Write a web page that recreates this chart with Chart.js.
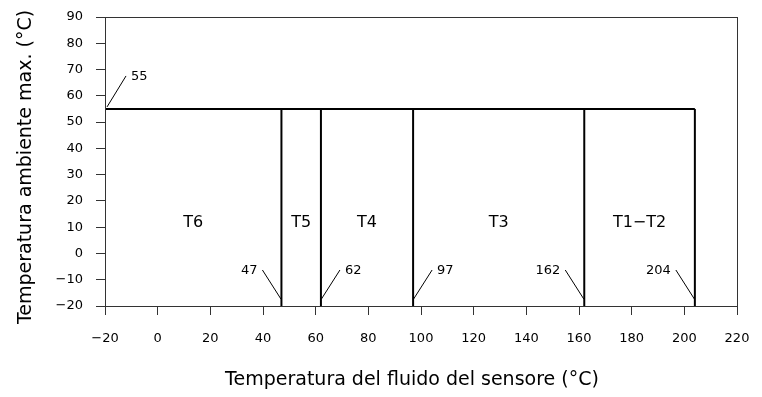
<!DOCTYPE html>
<html>
<head>
<meta charset="utf-8">
<script src="https://cdn.jsdelivr.net/npm/chart.js@4/dist/chart.umd.min.js"></script>
<style>
  html, body { margin: 0; padding: 0; background: #fff; }
  #wrap { width: 762px; height: 397px; }
</style>
</head>
<body>
<div id="wrap"><canvas id="c" width="762" height="397"></canvas></div>
<script>
// Axis ranges (°C)
const xRange = [-20, 220];
const yRange = [-20, 90];
// Fluid temperature limits of each temperature class (°C)
const classBoundaries = [47, 62, 97, 162, 204];
const classNames = ['T6', 'T5', 'T4', 'T3', 'T1\u2212T2'];
// Ambient temperature limits (°C)
const maxAmbient = 55;
const minAmbient = -20;
const fluidStart = -20;
// Axis titles
const xTitle = 'Temperatura del fluido del sensore (°C)';
const yTitle = 'Temperatura ambiente max. (°C)';

const FONT = 'DejaVu Sans, Liberation Sans, Arial, sans-serif';

// Envelope: top line plus one vertical line per class limit
const datasets = [{
  data: [{ x: fluidStart, y: maxAmbient }, { x: classBoundaries[classBoundaries.length - 1], y: maxAmbient }]
}].concat(classBoundaries.map(b => ({
  data: [{ x: b, y: minAmbient }, { x: b, y: maxAmbient }]
}))).map(d => Object.assign(d, {
  showLine: true, borderColor: '#000', borderWidth: 2, pointRadius: 0, fill: false, clip: false
}));

const minusSign = v => String(v).replace('-', '\u2212');

// Frame, axis titles, leader lines with value labels, and class names
const annotations = {
  id: 'annotations',
  afterDatasetsDraw(chart, args, opts) {
    const { ctx, chartArea: a, scales: { x, y } } = chart;
    ctx.save();
    ctx.strokeStyle = '#333';
    ctx.lineWidth = 1;
    ctx.strokeRect(Math.round(a.left) + 0.5, Math.round(a.top) + 0.5,
                   Math.round(a.right - a.left), Math.round(a.bottom - a.top));

    ctx.fillStyle = '#000';
    ctx.strokeStyle = '#000';
    ctx.textBaseline = 'middle';

    // axis titles
    ctx.font = '19px ' + FONT;
    ctx.textAlign = 'center';
    ctx.fillText(xTitle, (a.left + a.right) / 2 - 9, 380);
    ctx.save();
    ctx.translate(26, 167);
    ctx.rotate(-Math.PI / 2);
    ctx.fillText(yTitle, 0, 0);
    ctx.restore();

    ctx.lineWidth = 1;
    ctx.font = '13px ' + FONT;

    // class limit values
    classBoundaries.forEach((b, i) => {
      const s = opts.leaderSides[i];
      const x0 = x.getPixelForValue(b);
      const y0 = y.getPixelForValue(minAmbient);
      ctx.beginPath();
      ctx.moveTo(x0 + s * 0.5, y0 - 7);
      ctx.lineTo(x0 + s * 19, y0 - 36);
      ctx.stroke();
      ctx.textAlign = s < 0 ? 'right' : 'left';
      ctx.fillText(String(b), x0 + s * 24, y0 - 35);
    });

    // maximum ambient value
    const xa = x.getPixelForValue(fluidStart);
    const ya = y.getPixelForValue(maxAmbient);
    ctx.beginPath();
    ctx.moveTo(xa + 2, ya - 2);
    ctx.lineTo(xa + 21, ya - 33);
    ctx.stroke();
    ctx.textAlign = 'left';
    ctx.fillText(String(maxAmbient), xa + 26, ya - 32);

    // class names, centred in each band
    ctx.font = '16px ' + FONT;
    ctx.textAlign = 'center';
    const edges = [fluidStart].concat(classBoundaries);
    classNames.forEach((name, i) => {
      const cx = (x.getPixelForValue(edges[i]) + x.getPixelForValue(edges[i + 1])) / 2;
      ctx.fillText(name, cx, y.getPixelForValue(opts.nameLevel));
    });
    ctx.restore();
  }
};

new Chart(document.getElementById('c'), {
  type: 'scatter',
  data: { datasets },
  options: {
    responsive: false,
    animation: false,
    devicePixelRatio: 1,
    layout: { padding: { left: 0, right: 25, top: 17, bottom: 0 } },
    plugins: {
      legend: { display: false },
      tooltip: { enabled: false },
      annotations: { leaderSides: [-1, 1, 1, -1, -1], nameLevel: 11.5 }
    },
    scales: {
      x: {
        type: 'linear', min: xRange[0], max: xRange[1],
        afterFit: s => { s.height = 91; s.paddingLeft = 0; s.paddingRight = 0; },
        border: { display: false },
        grid: { display: true, drawOnChartArea: false, drawTicks: true, tickLength: 9, color: '#333', lineWidth: 1 },
        ticks: { stepSize: 20, padding: 16, color: '#000', font: { family: FONT, size: 13 }, maxRotation: 0,
                 callback: v => minusSign(v) },
        title: { display: false, text: xTitle }
      },
      y: {
        type: 'linear', min: yRange[0], max: yRange[1],
        afterFit: s => { s.width = 105; s.paddingTop = 0; s.paddingBottom = 0; },
        border: { display: false },
        grid: { display: true, drawOnChartArea: false, drawTicks: true, tickLength: 9, color: '#333', lineWidth: 1 },
        ticks: { stepSize: 10, padding: 13, color: '#000', font: { family: FONT, size: 13 },
                 callback: v => minusSign(v) },
        title: { display: false, text: yTitle }
      }
    }
  },
  plugins: [annotations]
});
</script>
</body>
</html>
